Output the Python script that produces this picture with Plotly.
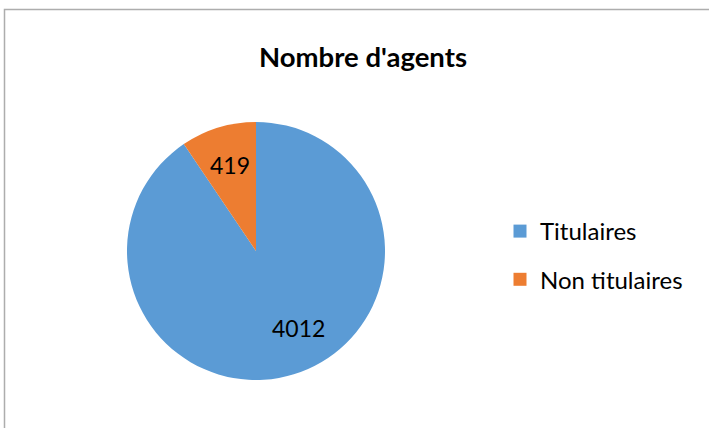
import math
import plotly.graph_objects as go

categories = ["Titulaires", "Non titulaires"]
values = [4012, 419]
colors = ["#5B9BD5", "#ED7D31"]
title_text = "Nombre d'agents"

W, H = 709, 428
FONT = "Lato, 'Open Sans', sans-serif"

# pie geometry (pixels)
CX, CY, R = 256, 251, 129
# label placement: radial fraction and angular nudge (deg) per slice, Excel-like best fit
label_rfrac = [0.68, 0.70]
label_nudge = [-12, 0]

fig = go.Figure()
fig.add_trace(go.Pie(
    labels=categories, values=values, sort=False, direction="clockwise", rotation=0,
    marker=dict(colors=colors, line=dict(width=0)),
    textinfo="none", showlegend=False, hoverinfo="label+value",
    domain=dict(x=[(CX - R) / W, (CX + R) / W], y=[(H - CY - R) / H, (H - CY + R) / H]),
))
for i, (c, col) in enumerate(zip(categories, colors)):
    fig.add_trace(go.Scatter(
        x=[None], y=[None], mode="markers", name=c, legendgroup=str(i),
        marker=dict(symbol="square", size=13, color=col),
    ))

total = sum(values)
annotations = []
cum = 0
for i, v in enumerate(values):
    mid = (cum + v / 2) / total * 360 + label_nudge[i]
    cum += v
    r = R * label_rfrac[i]
    px = CX + r * math.sin(math.radians(mid))
    py = CY - r * math.cos(math.radians(mid))
    annotations.append(dict(x=px / W, y=1 - py / H, xref="paper", yref="paper",
                            xanchor="center", yanchor="middle",
                            text=str(v), showarrow=False,
                            font=dict(family=FONT, size=23, color="#000000")))

fig.update_layout(
    width=W, height=H, margin=dict(l=0, r=0, t=0, b=0),
    paper_bgcolor="white", plot_bgcolor="white",
    title=dict(text=f"<b>{title_text}</b>", x=363 / W, xanchor="center",
               y=1 - 57 / H, yanchor="middle", yref="paper",
               font=dict(family=FONT, size=27.5, color="#000000")),
    xaxis=dict(visible=False), yaxis=dict(visible=False),
    legend=dict(x=500 / W, xanchor="left", y=1 - 209 / H, yanchor="top",
                font=dict(family=FONT, size=24, color="#000000"),
                tracegroupgap=14, itemwidth=30, bgcolor="rgba(0,0,0,0)"),
    annotations=annotations,
    shapes=[dict(type="rect", xref="paper", yref="paper",
                 x0=4.5 / W, x1=1.05, y0=-0.05, y1=1 - 9.5 / H,
                 line=dict(color="#ADADAD", width=1.5))],
)
fig.write_html("out.html", config={"displayModeBar": False},
               post_script="document.body.style.margin='0';document.body.style.overflow='hidden';")
